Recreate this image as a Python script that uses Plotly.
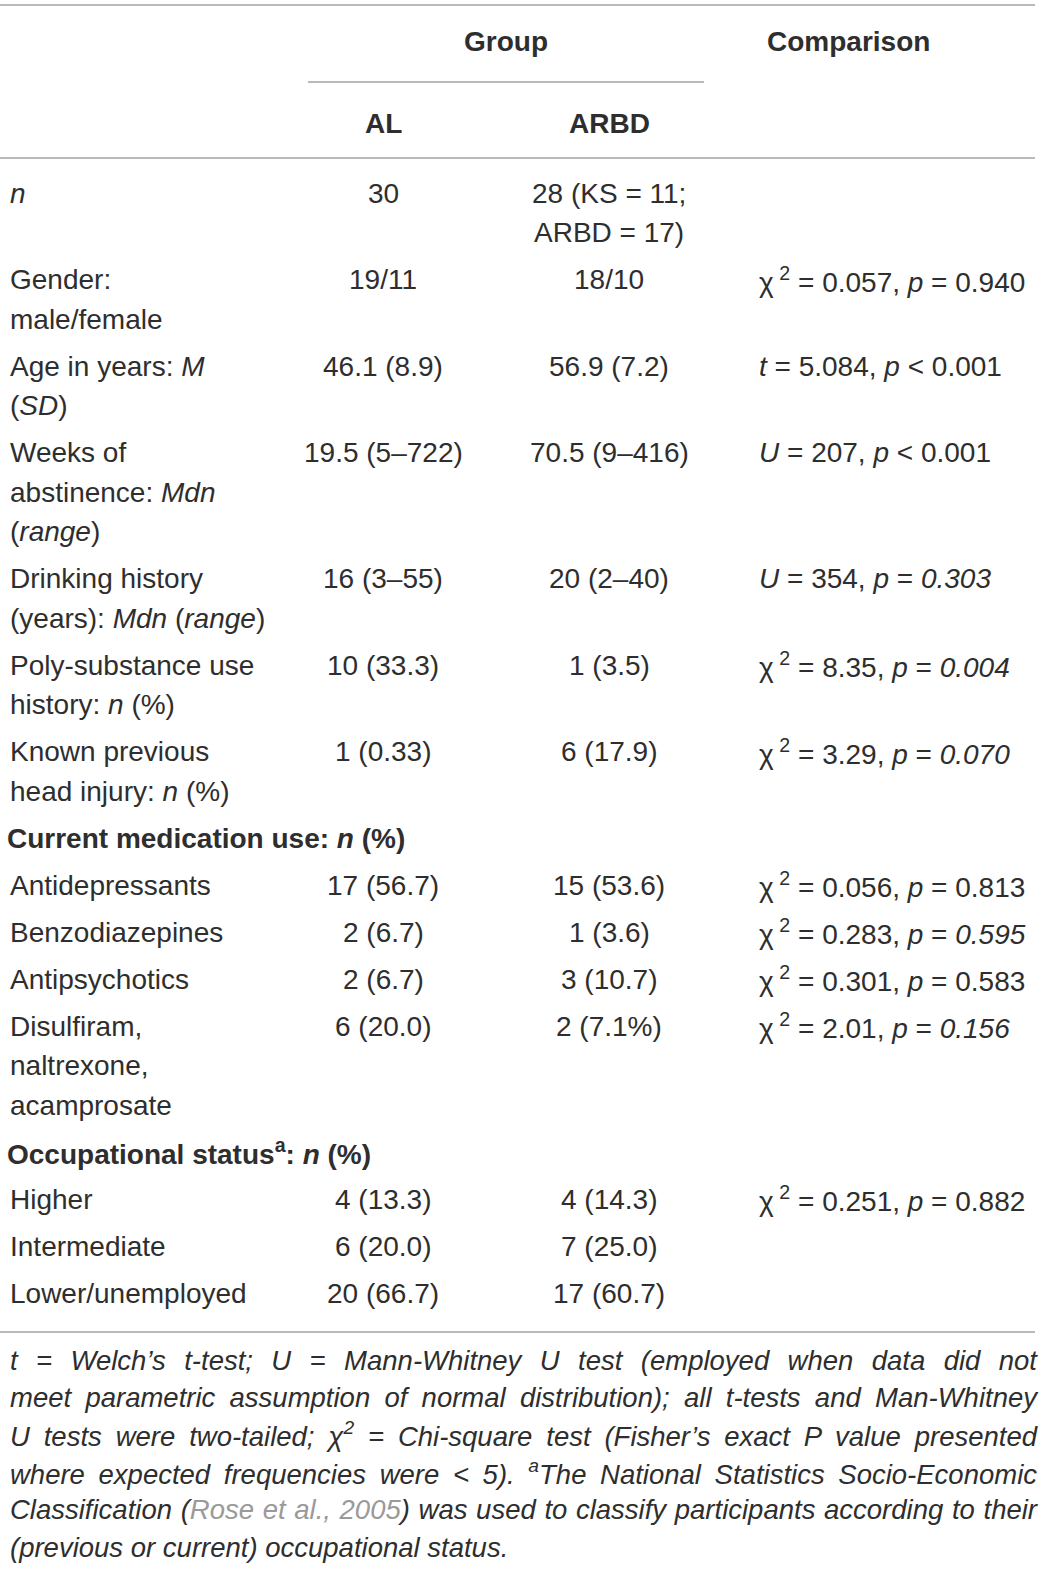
import json
import plotly.graph_objects as go

# ---------------- data ----------------
group_header = "Group"
comparison_header = "Comparison"
column_headers = ["AL", "ARBD"]

CHI = "χ\u2009<sup>2</sup>"

# "|" separates wrapped lines inside a cell
row_labels = [
    "<i>n</i>",
    "Gender:|male/female",
    "Age in years: <i>M</i>|(<i>SD</i>)",
    "Weeks of|abstinence: <i>Mdn</i>|(<i>range</i>)",
    "Drinking history|(years): <i>Mdn</i> (<i>range</i>)",
    "Poly-substance use|history: <i>n</i> (%)",
    "Known previous|head injury: <i>n</i> (%)",
    "<b>Current medication use: <i>n</i> (%)</b>",
    "Antidepressants",
    "Benzodiazepines",
    "Antipsychotics",
    "Disulfiram,|naltrexone,|acamprosate",
    "<b>Occupational status<sup>a</sup>: <i>n</i> (%)</b>",
    "Higher",
    "Intermediate",
    "Lower/unemployed",
]
row_is_section = [False, False, False, False, False, False, False, True,
                  False, False, False, False, True, False, False, False]
al_values = ["30", "19/11", "46.1 (8.9)", "19.5 (5–722)", "16 (3–55)", "10 (33.3)",
             "1 (0.33)", "", "17 (56.7)", "2 (6.7)", "2 (6.7)", "6 (20.0)", "",
             "4 (13.3)", "6 (20.0)", "20 (66.7)"]
arbd_values = ["28 (KS = 11;|ARBD = 17)", "18/10", "56.9 (7.2)", "70.5 (9–416)",
               "20 (2–40)", "1 (3.5)", "6 (17.9)", "", "15 (53.6)", "1 (3.6)",
               "3 (10.7)", "2 (7.1%)", "", "4 (14.3)", "7 (25.0)", "17 (60.7)"]
comparisons = [
    "",
    CHI + " = 0.057, <i>p</i> = 0.940",
    "<i>t</i> = 5.084, <i>p</i> &lt; 0.001",
    "<i>U</i> = 207, <i>p</i> &lt; 0.001",
    "<i>U</i> = 354, <i>p</i> = <i>0.303</i>",
    CHI + " = 8.35, <i>p</i> = <i>0.004</i>",
    CHI + " = 3.29, <i>p</i> = <i>0.070</i>",
    "",
    CHI + " = 0.056, <i>p</i> = 0.813",
    CHI + " = 0.283, <i>p</i> = <i>0.595</i>",
    CHI + " = 0.301, <i>p</i> = 0.583",
    CHI + " = 2.01, <i>p</i> = <i>0.156</i>",
    "",
    CHI + " = 0.251, <i>p</i> = 0.882",
    "",
    "",
]
footnote_lines = [
    "t = Welch’s t-test; U = Mann-Whitney U test (employed when data did not",
    "meet parametric assumption of normal distribution); all t-tests and Man-Whitney",
    "U tests were two-tailed; χ<sup>2</sup> = Chi-square test (Fisher’s exact P value presented",
    "where expected frequencies were &lt; 5). <sup>a</sup>The National Statistics Socio-Economic",
    "Classification (<span style='color:#9a9a9a'>Rose et al., 2005</span>) was used to classify participants according to their",
    "(previous or current) occupational status.",
]
footnote_justified = [True, True, True, True, True, False]

# ---------------- layout constants (pixels) ----------------
W, H = 1043, 1569
FONT = "Liberation Sans"
TXT = "#2e2e2e"
RULE = "#a3a3a3"
FS = 28
FS_FOOT = 27.5
X_LABEL, X_SECTION, X_AL, X_ARBD, X_CMP = 8, 5, 383, 609, 757
X_GROUP, X_CMP_HEAD = 506, 848
Y_GROUP, Y_SUB = 41, 123
Y_FIRST_ROW, ROW_STEP, LINE_STEP = 193, 47, 39.5
FOOT_FIRST, FOOT_STEP = 1360, 37.4
FOOT_WIDTH = 1027

fig = go.Figure()
annotations = []


def add_text(x, y, text, anchor="left", size=FS):
    annotations.append(dict(x=x, y=y, xref="x", yref="y", text=text, showarrow=False,
                            xanchor=anchor, yanchor="middle", align=anchor,
                            font=dict(family=FONT, size=size, color=TXT)))


# headers
add_text(X_GROUP, Y_GROUP, "<b>" + group_header + "</b>", "center")
add_text(X_CMP_HEAD, Y_GROUP, "<b>" + comparison_header + "</b>", "center")
add_text(X_AL, Y_SUB, "<b>" + column_headers[0] + "</b>", "center")
add_text(X_ARBD, Y_SUB, "<b>" + column_headers[1] + "</b>", "center")

# body rows
y = Y_FIRST_ROW
for label, sec, al, arbd, cmp in zip(row_labels, row_is_section, al_values, arbd_values, comparisons):
    cells = [(label, X_SECTION if sec else X_LABEL, "left"),
             (al, X_AL, "center"), (arbd, X_ARBD, "center"), (cmp, X_CMP, "left")]
    nlines = 1
    for text, x, anchor in cells:
        parts = text.split("|") if text else []
        nlines = max(nlines, len(parts))
        for k, part in enumerate(parts):
            add_text(x, y + k * LINE_STEP, part, anchor)
    y += (nlines - 1) * LINE_STEP + ROW_STEP

# footnote
justify_idx = []
for k, line in enumerate(footnote_lines):
    if footnote_justified[k]:
        justify_idx.append(len(annotations))
    add_text(X_LABEL, FOOT_FIRST + k * FOOT_STEP, "<i>" + line + "</i>", size=FS_FOOT)

# rules
shapes = [
    dict(type="line", xref="x", yref="y", x0=0, x1=1035, y0=5, y1=5, line=dict(color=RULE, width=1.5)),
    dict(type="line", xref="x", yref="y", x0=308, x1=704, y0=82, y1=82, line=dict(color=RULE, width=1.5)),
    dict(type="line", xref="x", yref="y", x0=0, x1=1035, y0=158, y1=158, line=dict(color=RULE, width=1.5)),
    dict(type="line", xref="x", yref="y", x0=0, x1=1035, y0=1332, y1=1332, line=dict(color=RULE, width=1.5)),
]

fig.update_layout(
    width=W, height=H,
    margin=dict(l=0, r=0, t=0, b=0),
    paper_bgcolor="white", plot_bgcolor="white",
    xaxis=dict(range=[0, W], visible=False, fixedrange=True),
    yaxis=dict(range=[H, 0], visible=False, fixedrange=True),
    annotations=annotations, shapes=shapes, showlegend=False,
)

post = """
document.body.style.margin = '0';
var idx = %s;
var target = %d;
idx.forEach(function(i){
  var g = document.querySelector('g.annotation[data-index="' + i + '"] text.annotation-text');
  if (!g) return;
  var w = g.getComputedTextLength();
  var n = (g.textContent.match(/ /g) || []).length;
  if (n > 0) { g.style.wordSpacing = ((target - w) / n) + 'px'; }
});
""" % (json.dumps(justify_idx), FOOT_WIDTH)

fig.write_html("out.html", post_script=post, config={"displayModeBar": False})
